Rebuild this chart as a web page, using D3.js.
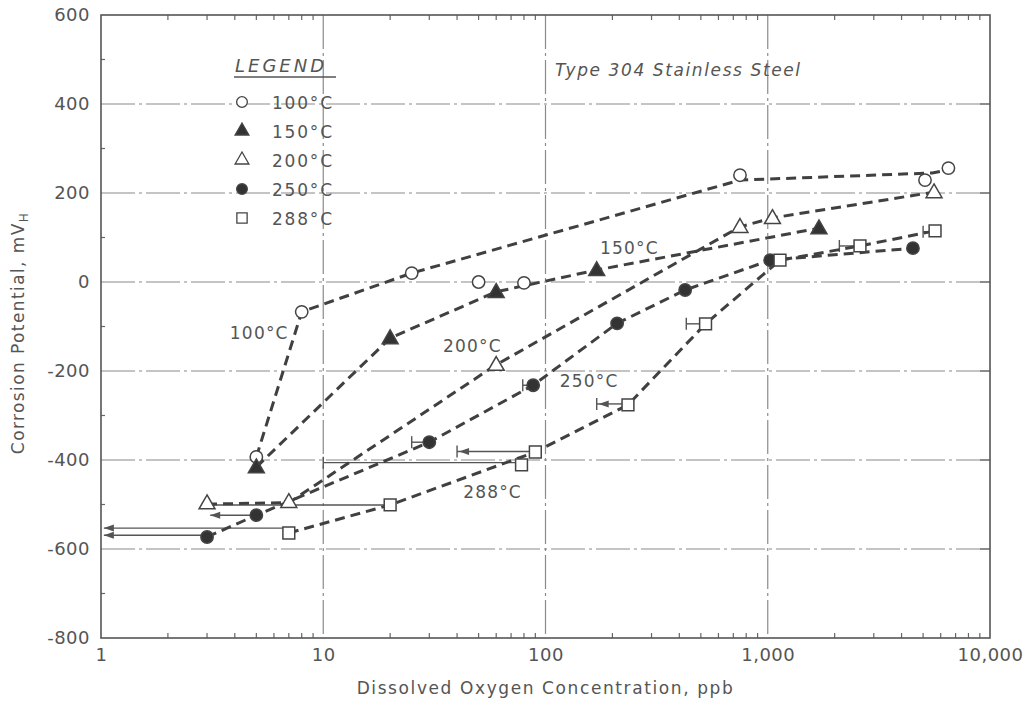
<!DOCTYPE html>
<html>
<head>
<meta charset="utf-8">
<script src="https://cdn.jsdelivr.net/npm/d3@7"></script>
<style>
  html, body { margin: 0; padding: 0; background: #fff; }
  svg { display: block; }
  text { font-family: "DejaVu Sans", sans-serif; fill: #555; }
</style>
</head>
<body>
<svg id="chart" width="1026" height="704"></svg>
<script>
// Temperature series (ppb, mV_H)
const seriesNames = ["100°C", "150°C", "200°C", "250°C", "288°C"];
const seriesSymbols = ["circle", "triangle", "triangle", "circle", "square"];
const seriesFilled = [false, true, false, true, false];

const points100 = [[5, -393], [8, -67], [25, 20], [50, 0], [80, -2], [750, 240], [5100, 229], [6500, 256]];
const points150 = [[5, -416], [20, -126], [60, -22], [170, 27], [1700, 121]];
const points200 = [[3, -497], [7, -494], [60, -186], [750, 124], [1050, 144], [5600, 202]];
const points250 = [[3, -573], [5, -524], [30, -360], [88, -232], [210, -93], [425, -18], [1025, 49], [4500, 76]];
const points288 = [[7, -564], [20, -501], [78, -411], [90, -382], [235, -276], [525, -94], [1135, 49], [2600, 81], [5660, 115]];

// Trend curves drawn through each series
const curve100 = [[5, -393], [8, -67], [25, 20], [750, 229], [5500, 245], [6500, 252]];
const curve150 = [[5, -416], [20, -126], [60, -22], [170, 27], [1700, 121]];
const curve200 = [[3, -499], [7, -496], [60, -186], [750, 124], [1050, 144], [5600, 202]];
const curve250 = [[3, -573], [5, -524], [30, -360], [88, -232], [210, -93], [425, -18], [1025, 49], [4500, 76]];
const curve288 = [[7, -564], [20, -501], [90, -382], [235, -276], [525, -94], [1135, 49], [2600, 81], [5660, 115]];

// Concentration ranges: [low ppb, high ppb, mV, end style]
const ranges = [
  [1.03, 7, -553, "arrow"],
  [1.03, 3, -569, "arrow"],
  [3.1, 5.3, -524, "arrow"],
  [3, 20, -501, "none"],
  [10, 78, -406, "cap"],
  [40, 90, -381, "caparrow"],
  [170, 235, -274, "caparrow"],
  [430, 525, -94, "cap"],
  [25, 30, -360, "cap"],
  [79, 88, -232, "cap"],
  [2100, 2600, 81, "cap"],
  [5000, 5660, 113, "cap"]
];

const xTicks = [1, 10, 100, 1000, 10000];
const yTicks = [-800, -600, -400, -200, 0, 200, 400, 600];

// Curve label placements [text, ppb, mV]
const curveLabels = [
  ["100°C", 3.8, -128],
  ["150°C", 176, 63],
  ["200°C", 34.6, -157],
  ["250°C", 116, -236],
  ["288°C", 42.6, -485]
];

const svg = d3.select("#chart");
const plotL = 101, plotR = 990, plotT = 15, plotB = 638;

const x = d3.scaleLog().domain([1, 10000]).range([plotL, plotR]);
const y = d3.scaleLinear().domain([-800, 600]).range([plotB, plotT]);

// grid
const grid = svg.append("g").attr("stroke", "#8a8a8a").attr("stroke-width", 1.2)
  .attr("stroke-dasharray", "34,4,3,4").attr("fill", "none");
grid.selectAll("line.h").data(yTicks.filter(d => d > -800 && d < 600)).join("line")
  .attr("x1", plotL).attr("x2", plotR).attr("y1", d => y(d)).attr("y2", d => y(d));
grid.selectAll("line.v").data([10, 100, 1000]).join("line")
  .attr("y1", plotT).attr("y2", plotB).attr("x1", d => x(d)).attr("x2", d => x(d));

// minor ticks
const minor = [];
for (let e = 0; e < 4; e++) for (let m = 2; m <= 9; m++) minor.push(m * Math.pow(10, e));
const tk = svg.append("g").attr("stroke", "#666").attr("stroke-width", 1.2);
tk.selectAll("line.b").data(minor).join("line")
  .attr("x1", d => x(d)).attr("x2", d => x(d)).attr("y1", plotB).attr("y2", plotB - 5);
tk.selectAll("line.t").data(minor).join("line")
  .attr("x1", d => x(d)).attr("x2", d => x(d)).attr("y1", plotT).attr("y2", plotT + 5);
tk.selectAll("line.l").data(d3.range(-700, 600, 200)).join("line")
  .attr("x1", plotL).attr("x2", plotL + 4).attr("y1", d => y(d)).attr("y2", d => y(d));
tk.selectAll("line.r").data(yTicks.slice(1, -1)).join("line")
  .attr("x1", plotR - 10).attr("x2", plotR).attr("y1", d => y(d)).attr("y2", d => y(d));

// frame
svg.append("rect").attr("x", plotL).attr("y", plotT).attr("width", plotR - plotL).attr("height", plotB - plotT)
  .attr("fill", "none").attr("stroke", "#555").attr("stroke-width", 1.6);

// axes
const xAxis = svg.append("g").attr("transform", `translate(0,${plotB})`)
  .call(d3.axisBottom(x).tickValues(xTicks).tickFormat(d3.format(",")).tickSize(0).tickPadding(10));
const yAxis = svg.append("g").attr("transform", `translate(${plotL},0)`)
  .call(d3.axisLeft(y).tickValues(yTicks).tickFormat(d => String(d)).tickSize(0).tickPadding(11));
[xAxis, yAxis].forEach(a => {
  a.select(".domain").remove();
  a.selectAll("text").attr("font-family", "DejaVu Sans").attr("font-size", 18)
    .attr("fill", "#555").attr("letter-spacing", "0.5px");
});

// axis titles
svg.append("text").attr("x", (plotL + plotR) / 2).attr("y", 694).attr("text-anchor", "middle")
  .attr("font-size", 17).attr("letter-spacing", "1.6px").text("Dissolved Oxygen Concentration, ppb");
const yt = svg.append("text").attr("transform", "translate(24,333) rotate(-90)").attr("text-anchor", "middle")
  .attr("font-size", 17).attr("letter-spacing", "1.4px");
yt.append("tspan").text("Corrosion Potential, mV");
yt.append("tspan").attr("font-size", 12).attr("dy", 4).text("H");

// ranges
const rg = svg.append("g").attr("stroke", "#555").attr("stroke-width", 1.4).attr("fill", "#555");
ranges.forEach(([lo, hi, v, style]) => {
  const yy = y(v);
  rg.append("line").attr("x1", x(lo)).attr("x2", x(hi)).attr("y1", yy).attr("y2", yy);
  if (style === "cap" || style === "caparrow") {
    rg.append("line").attr("x1", x(lo)).attr("x2", x(lo)).attr("y1", yy - 6).attr("y2", yy + 6);
  }
  if (style === "arrow" || style === "caparrow") {
    const ax = x(lo) + (style === "caparrow" ? 2 : 0);
    rg.append("path").attr("stroke", "none")
      .attr("d", `M${ax},${yy} l10,-3.5 l0,7 z`);
  }
});

// trend curves
const lineGen = d3.line().x(d => x(d[0])).y(d => y(d[1]));
const curves = [curve100, curve150, curve200, curve250, curve288];
svg.append("g").selectAll("path").data(curves).join("path")
  .attr("d", lineGen).attr("fill", "none").attr("stroke", "#404040")
  .attr("stroke-width", 3).attr("stroke-dasharray", "10,6");

// markers
const symType = { circle: d3.symbolCircle, triangle: d3.symbolTriangle, square: d3.symbolSquare };
const symSize = { circle: 120, triangle: 110, square: 140 };
const allPoints = [points100, points150, points200, points250, points288];
allPoints.forEach((pts, i) => {
  const s = seriesSymbols[i];
  svg.append("g").selectAll("path").data(pts).join("path")
    .attr("transform", d => `translate(${x(d[0])},${y(d[1]) + (s === "triangle" ? 1 : 0)})`)
    .attr("d", d3.symbol().type(symType[s]).size(symSize[s]))
    .attr("fill", seriesFilled[i] ? "#333" : "#fff")
    .attr("stroke", "#444").attr("stroke-width", 1.5);
});

// curve labels
svg.append("g").selectAll("text").data(curveLabels).join("text")
  .attr("x", d => x(d[1])).attr("y", d => y(d[2]))
  .attr("font-size", 17).attr("letter-spacing", "1.2px").text(d => d[0]);

// legend
const lg = svg.append("g");
lg.append("text").attr("x", 235).attr("y", 72).attr("font-size", 18).attr("font-style", "italic")
  .attr("letter-spacing", "3px").text("LEGEND");
lg.append("line").attr("x1", 234).attr("x2", 336).attr("y1", 77).attr("y2", 77)
  .attr("stroke", "#555").attr("stroke-width", 1.6);
const rows = lg.selectAll("g.row").data(seriesNames).join("g")
  .attr("transform", (d, i) => `translate(242,${102 + i * 29})`);
rows.append("path")
  .attr("d", (d, i) => d3.symbol().type(symType[seriesSymbols[i]]).size(symSize[seriesSymbols[i]] * 0.75)())
  .attr("fill", (d, i) => seriesFilled[i] ? "#333" : "#fff")
  .attr("stroke", "#444").attr("stroke-width", 1.3);
rows.append("text").attr("x", 30).attr("y", 7).attr("font-size", 17).attr("letter-spacing", "1.8px").text(d => d);

// material note
svg.append("text").attr("x", 555).attr("y", 76).attr("font-size", 17).attr("font-style", "italic")
  .attr("letter-spacing", "1.6px").text("Type 304 Stainless Steel");
</script>
</body>
</html>
